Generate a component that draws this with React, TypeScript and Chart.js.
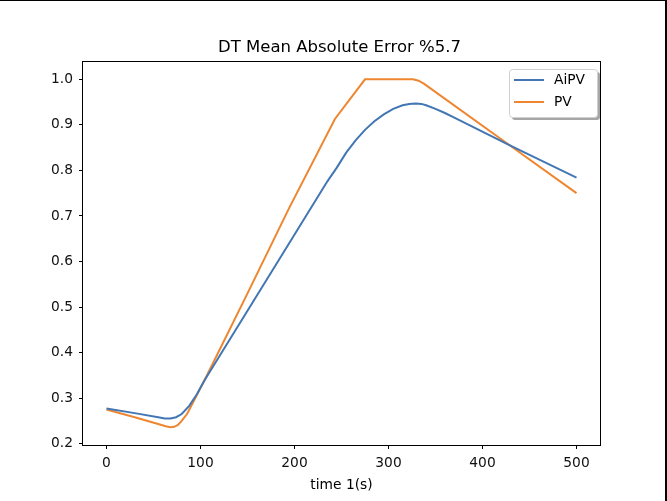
import React, { useEffect, useRef } from "react";
import { Chart, registerables } from "chart.js";

Chart.register(...registerables);

const TITLE = "DT Mean Absolute Error %5.7";
const X_LABEL = "time 1(s)";
const SERIES_NAMES = ["AiPV", "PV"];
const SERIES_COLORS = ["#4277b3", "#ee8630"];

const AIPV_X = [0, 30, 55, 62, 68, 74, 80, 88, 96, 104, 150, 194, 235, 245, 255, 265, 275, 285, 295, 305, 315, 322, 329, 335, 340, 350, 360, 370, 427, 500];
const AIPV_Y = [0.277, 0.267, 0.258, 0.255, 0.255, 0.258, 0.265, 0.283, 0.308, 0.338, 0.492, 0.639, 0.776, 0.806, 0.839, 0.866, 0.889, 0.908, 0.923, 0.935, 0.943, 0.946, 0.947, 0.946, 0.943, 0.935, 0.926, 0.916, 0.857, 0.784];

const PV_X = [0, 30, 55, 63, 68, 72, 76, 80, 86, 104, 150, 194, 243, 275, 326, 332, 338, 427, 500];
const PV_Y = [0.275, 0.258, 0.243, 0.238, 0.236, 0.237, 0.241, 0.25, 0.266, 0.338, 0.53, 0.716, 0.913, 1.0, 1.0, 0.997, 0.99, 0.858, 0.75];

const X_TICKS = [0, 100, 200, 300, 400, 500];
const Y_TICKS = [0.2, 0.3, 0.4, 0.5, 0.6, 0.7, 0.8, 0.9, 1.0];

const W = 667;
const H = 501;
const FONT = '"DejaVu Sans", sans-serif';

const decor = {
  id: "decor",
  afterDraw(chart: any) {
    const { ctx, chartArea: a } = chart;
    ctx.save();
    // image border (top and right)
    ctx.fillStyle = "#000";
    ctx.fillRect(0, 0, W, 1);
    ctx.fillRect(W - 2, 0, 2, H);
    // axes frame
    ctx.strokeStyle = "#000";
    ctx.lineWidth = 1;
    const l = Math.round(a.left) - 0.5;
    const t = Math.round(a.top) - 0.5;
    const r = Math.round(a.right) + 0.5;
    const b = Math.round(a.bottom) + 0.5;
    ctx.strokeRect(l, t, r - l, b - t);
    // title
    ctx.fillStyle = "#000";
    ctx.font = `16.5px ${FONT}`;
    ctx.textAlign = "center";
    ctx.textBaseline = "alphabetic";
    const cx = (a.left + a.right) / 2;
    ctx.fillText(TITLE, cx - 2, 52);
    // x label
    ctx.font = `13.8px ${FONT}`;
    ctx.fillText(X_LABEL, cx, 489);
    // legend
    const lx = 509, ly = 69, lw = 88, lh = 48;
    ctx.fillStyle = "rgba(0,0,0,0.35)";
    ctx.beginPath();
    ctx.roundRect(lx + 3, ly + 3, lw, lh, 3);
    ctx.fill();
    ctx.fillStyle = "#fff";
    ctx.strokeStyle = "#d0d0d0";
    ctx.beginPath();
    ctx.roundRect(lx + 0.5, ly + 0.5, lw, lh, 3);
    ctx.fill();
    ctx.stroke();
    ctx.textAlign = "left";
    ctx.textBaseline = "middle";
    ctx.font = `13.8px ${FONT}`;
    chart.data.datasets.forEach((ds: any, i: number) => {
      const yy = 80 + i * 22;
      ctx.strokeStyle = ds.borderColor;
      ctx.lineWidth = 2;
      ctx.beginPath();
      ctx.moveTo(514, yy);
      ctx.lineTo(544, yy);
      ctx.stroke();
      ctx.fillStyle = "#000";
      ctx.fillText(ds.label, 554, yy);
    });
    ctx.restore();
  },
};

export default function App() {
  const ref = useRef<HTMLCanvasElement | null>(null);
  useEffect(() => {
    if (!ref.current) return;
    const chart = new Chart(ref.current, {
      type: "line",
      data: {
        datasets: [
          {
            label: SERIES_NAMES[0],
            data: AIPV_X.map((x, i) => ({ x, y: AIPV_Y[i] })),
            borderColor: SERIES_COLORS[0],
            borderWidth: 2,
            pointRadius: 0,
            tension: 0,
            fill: false,
          },
          {
            label: SERIES_NAMES[1],
            data: PV_X.map((x, i) => ({ x, y: PV_Y[i] })),
            borderColor: SERIES_COLORS[1],
            borderWidth: 2,
            pointRadius: 0,
            tension: 0,
            fill: false,
          },
        ],
      },
      options: {
        animation: false,
        responsive: false,
        devicePixelRatio: 1,
        layout: { padding: { left: 0, right: 67, top: 62, bottom: 0 } },
        plugins: { legend: { display: false }, title: { display: false }, tooltip: { enabled: false } },
        scales: {
          x: {
            type: "linear",
            min: -25,
            max: 525,
            afterFit: (s: any) => { s.height = 56; },
            afterBuildTicks: (s: any) => { s.ticks = X_TICKS.map((v) => ({ value: v })); },
            grid: { drawOnChartArea: false, drawTicks: true, tickLength: 4, tickColor: "#000", lineWidth: 1 },
            border: { display: false },
            ticks: { color: "#111", font: { family: FONT, size: 13.8 }, padding: 6, maxRotation: 0, callback: (v: any) => String(v) },
          },
          y: {
            type: "linear",
            min: 0.197,
            max: 1.038,
            afterFit: (s: any) => { s.width = 83; },
            afterBuildTicks: (s: any) => { s.ticks = Y_TICKS.map((v) => ({ value: v })); },
            grid: { drawOnChartArea: false, drawTicks: true, tickLength: 4, tickColor: "#000", lineWidth: 1 },
            border: { display: false },
            ticks: { color: "#111", font: { family: FONT, size: 13.8 }, padding: 6, callback: (v: any) => Number(v).toFixed(1) },
          },
        },
      },
      plugins: [decor],
    } as any);
    return () => chart.destroy();
  }, []);
  return (
    <div style={{ position: "fixed", left: 0, top: 0, width: W, height: H, background: "#fff" }}>
      <canvas ref={ref} width={W} height={H} style={{ width: W, height: H, display: "block" }} />
    </div>
  );
}
